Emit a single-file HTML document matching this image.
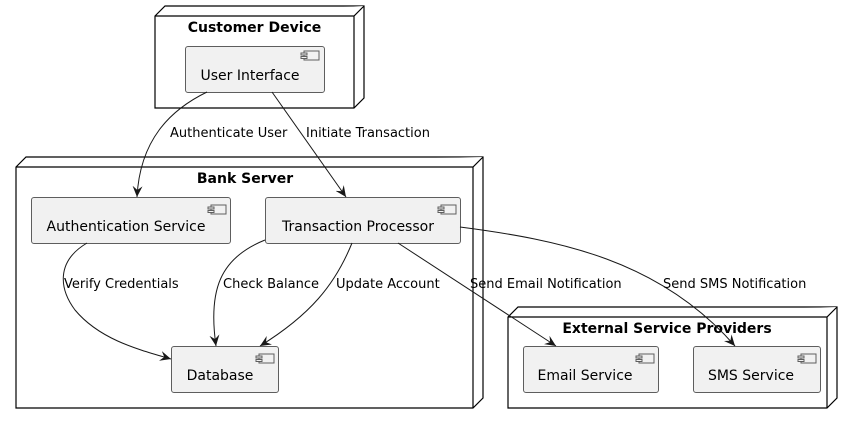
<!DOCTYPE html>
<html><head><meta charset="utf-8"><style>
html,body{margin:0;padding:0;background:#fff}
svg{display:block}
text{font-family:"DejaVu Sans","Liberation Sans",sans-serif;fill:#000}
.t{font-weight:bold;font-size:14px}
.c{font-size:14px}
.l{font-size:13px}
.box{fill:#f1f1f1;stroke:#5e5e5e;stroke-width:1}
.node{fill:#fff;stroke:#000;stroke-width:1.2}
.e{fill:none;stroke:#181818;stroke-width:1}
.ah{fill:#181818}
</style></head><body>
<svg width="852" height="424" viewBox="0 0 852 424" xmlns="http://www.w3.org/2000/svg">
<defs>
<marker id="a" viewBox="0 0 12 10" refX="11" refY="5" markerWidth="12" markerHeight="10" markerUnits="userSpaceOnUse" orient="auto">
<path d="M0,0 L11,5 L0,10 L4,5 Z" class="ah"/>
</marker>
<g id="ic"><rect x="4" y="0" width="15" height="9" fill="none" stroke="#5e5e5e"/><rect x="1" y="2" width="6" height="2" fill="#f1f1f1" stroke="#5e5e5e"/><rect x="1" y="5.5" width="6" height="2" fill="#f1f1f1" stroke="#5e5e5e"/></g>
</defs>
<!-- Customer Device -->
<path class="node" d="M155,16 L165,6 L364,6 L364,98 L354,108 L155,108 Z"/>
<path class="node" d="M155,16 L354,16 L364,6 M354,16 L354,108" fill="none"/>
<text class="t" x="254.5" y="32" text-anchor="middle">Customer Device</text>
<rect class="box" x="185.5" y="46.5" width="139" height="46" rx="2.5"/>
<use href="#ic" x="300" y="51"/>
<text class="c" x="250" y="80" text-anchor="middle">User Interface</text>
<!-- Bank Server -->
<path class="node" d="M16,167 L26,157 L483,157 L483,398 L473,408 L16,408 Z"/>
<path class="node" d="M16,167 L473,167 L483,157 M473,167 L473,408" fill="none"/>
<text class="t" x="245" y="183" text-anchor="middle">Bank Server</text>
<rect class="box" x="31.5" y="197.5" width="199" height="46" rx="2.5"/>
<use href="#ic" x="207" y="205"/>
<text class="c" x="126" y="231" text-anchor="middle">Authentication Service</text>
<rect class="box" x="265.5" y="197.5" width="195" height="46" rx="2.5"/>
<use href="#ic" x="437" y="205"/>
<text class="c" x="358" y="231" text-anchor="middle">Transaction Processor</text>
<rect class="box" x="171.5" y="346.5" width="107" height="46" rx="2.5"/>
<use href="#ic" x="255" y="354"/>
<text class="c" x="220" y="380" text-anchor="middle">Database</text>
<!-- External -->
<path class="node" d="M508,317 L518,307 L837,307 L837,398 L827,408 L508,408 Z"/>
<path class="node" d="M508,317 L827,317 L837,307 M827,317 L827,408" fill="none"/>
<text class="t" x="667" y="333" text-anchor="middle">External Service Providers</text>
<rect class="box" x="523.5" y="346.5" width="135" height="46" rx="2.5"/>
<use href="#ic" x="635" y="354"/>
<text class="c" x="585" y="380" text-anchor="middle">Email Service</text>
<rect class="box" x="693.5" y="346.5" width="127" height="46" rx="2.5"/>
<use href="#ic" x="797" y="354"/>
<text class="c" x="751" y="380" text-anchor="middle">SMS Service</text>
<!-- edges -->
<path class="e" marker-end="url(#a)" d="M207,92 C170,110 140,140 137,197"/>
<text class="l" x="170" y="137">Authenticate User</text>
<path class="e" marker-end="url(#a)" d="M272,92 L346,197"/>
<text class="l" x="306" y="137">Initiate Transaction</text>
<path class="e" marker-end="url(#a)" d="M87,243 C55,262 60,290 75,310 C100,340 140,350 171,359"/>
<text class="l" x="64" y="288">Verify Credentials</text>
<path class="e" marker-end="url(#a)" d="M265,240 C220,258 208,290 216,346"/>
<text class="l" x="223" y="288">Check Balance</text>
<path class="e" marker-end="url(#a)" d="M352,243 C335,285 310,315 260,346"/>
<text class="l" x="336" y="288">Update Account</text>
<path class="e" marker-end="url(#a)" d="M398,243 L556,346"/>
<text class="l" x="470" y="288">Send Email Notification</text>
<path class="e" marker-end="url(#a)" d="M460,227 C560,240 660,260 735,346"/>
<text class="l" x="663" y="288">Send SMS Notification</text>
</svg>
</body></html>
